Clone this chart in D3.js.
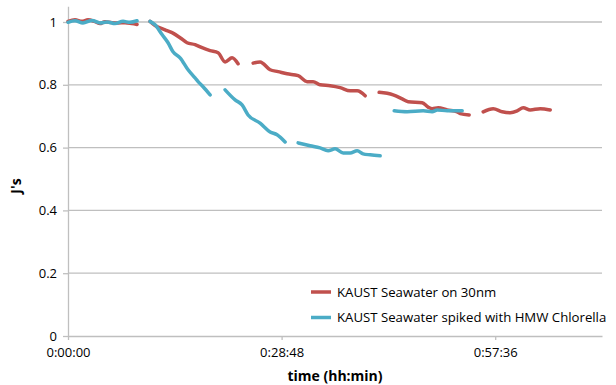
<!DOCTYPE html>
<html><head><meta charset="utf-8">
<script src="https://cdn.jsdelivr.net/npm/d3@7"></script>
<style>
html,body{margin:0;padding:0;background:#fff;}
svg{display:block;font-family:"Open Sans",sans-serif;}
</style></head>
<body><svg id="c" width="616" height="385"></svg>
<script>
// time in minutes; null marks a gap in the recorded line
const redTime = [0,0.94,1.89,2.70,3.64,4.32,4.99,5.94,6.74,7.69,8.63,9.31,null,
  11.06,11.74,13.09,14.03,15.11,16.05,17.13,18.08,19.16,20.24,21.18,22.12,22.93,null,
  24.96,25.90,27.25,28.33,29.54,31.03,32.24,33.05,33.99,35.34,36.69,38.04,38.99,40.07,null,
  41.95,43.84,45.06,45.87,47.75,48.56,49.10,49.91,51.13,52.48,52.88,54.09,null,
  55.98,57.33,58.55,59.63,60.57,61.38,62.32,63.67,65.02];
const redValue = [1.002,1.007,1.002,1.007,1.001,0.995,1.001,0.998,0.997,0.998,0.995,0.992,null,
  1.002,0.989,0.975,0.966,0.950,0.934,0.928,0.918,0.909,0.902,0.873,0.886,0.867,null,
  0.869,0.873,0.848,0.842,0.835,0.829,0.810,0.810,0.800,0.797,0.791,0.781,0.781,0.765,null,
  0.776,0.768,0.755,0.746,0.743,0.729,0.724,0.727,0.720,0.714,0.708,0.704,null,
  0.714,0.724,0.714,0.711,0.717,0.727,0.720,0.724,0.720];
const blueTime = [0,0.94,2.02,3.24,4.32,5.26,6.34,7.42,8.36,9.31,null,
  11.06,11.74,12.68,13.49,14.16,15.11,16.19,17.13,17.54,18.21,19.16,null,
  21.18,22.53,23.47,24.28,25.90,27.25,28.19,29.27,null,
  31.03,32.65,33.99,35.07,36.02,37.10,38.04,38.99,39.79,40.74,42.09,null,
  43.98,45.73,47.89,49.10,49.78,51.13,53.15];
const blueValue = [0.999,1.004,0.997,1.005,0.997,1.000,0.995,1.002,0.999,1.004,null,
  1.002,0.991,0.960,0.934,0.905,0.886,0.848,0.822,0.810,0.794,0.768,null,
  0.784,0.752,0.736,0.704,0.678,0.650,0.641,0.618,null,
  0.615,0.606,0.599,0.590,0.596,0.583,0.583,0.590,0.580,0.577,0.574,null,
  0.717,0.714,0.717,0.714,0.720,0.717,0.717];
const seriesNames = ["KAUST Seawater on 30nm","KAUST Seawater spiked with HMW Chlorella"];
const seriesColors = ["#C0504D","#4BACC6"];
const xTickValues = [0,28.8,57.6];
const xTickLabels = ["0:00:00","0:28:48","0:57:36"];
const yTickValues = [0,0.2,0.4,0.6,0.8,1];
const yTickLabels = ["0","0.2","0.4","0.6","0.8","1"];

const svg = d3.select("#c");
const x = d3.scaleLinear().domain([0,72]).range([68,602]);
const y = d3.scaleLinear().domain([0,1.05]).range([336,6.3]);

// gridlines
svg.append("g").selectAll("line").data(yTickValues.filter(v=>v>0)).join("line")
  .attr("x1",x(0)).attr("x2",x(72)).attr("y1",d=>y(d)).attr("y2",d=>y(d))
  .attr("stroke","#bfbfbf").attr("stroke-width",1.3);

// axes
const gx = svg.append("g").attr("transform",`translate(0,${y(0)})`)
  .call(d3.axisBottom(x).tickValues(xTickValues).tickFormat((d,i)=>xTickLabels[i]).tickSize(4).tickSizeOuter(0).tickPadding(8));
const gy = svg.append("g").attr("transform",`translate(${x(0)},0)`)
  .call(d3.axisLeft(y).tickValues(yTickValues).tickFormat((d,i)=>yTickLabels[i]).tickSize(5).tickSizeOuter(0).tickPadding(6));
[gx,gy].forEach(g=>{
  g.selectAll(".domain").attr("stroke","#bfbfbf").attr("stroke-width",1.3);
  g.selectAll(".tick line").attr("stroke","#bfbfbf").attr("stroke-width",1.3);
  g.selectAll("text").attr("fill","#000").style("font-size","13px").style("font-family","'Open Sans',sans-serif");
});

// series
const series = [
  {t:redTime, v:redValue},
  {t:blueTime, v:blueValue}
];
const line = d3.line().defined(d=>d[0]!==null && d[1]!==null)
  .x(d=>x(d[0])).y(d=>y(d[1])).curve(d3.curveMonotoneX);
series.forEach((s,i)=>{
  const pts = s.t.map((t,j)=>[t,s.v[j]]);
  svg.append("path").datum(pts).attr("d",line)
    .attr("fill","none").attr("stroke",seriesColors[i]).attr("stroke-width",3.5)
    .attr("stroke-linecap","round").attr("stroke-linejoin","round");
});

// axis titles
svg.append("text").attr("x",(x(0)+x(72))/2).attr("y",381).attr("text-anchor","middle")
  .style("font-size","14px").style("font-weight","bold").text("time (hh:min)");
svg.append("text").attr("transform","translate(21,186) rotate(-90)").attr("text-anchor","middle")
  .style("font-size","14px").style("font-weight","bold").text("J's");

// legend
const lg = svg.append("g");
seriesNames.forEach((n,i)=>{
  const yy = 292 + i*25.5;
  lg.append("line").attr("x1",311).attr("x2",331).attr("y1",yy).attr("y2",yy)
    .attr("stroke",seriesColors[i]).attr("stroke-width",3.5);
  lg.append("text").attr("x",337).attr("y",yy+4.5).style("font-size","13.2px").attr("fill","#000").text(n);
});
</script></body></html>
